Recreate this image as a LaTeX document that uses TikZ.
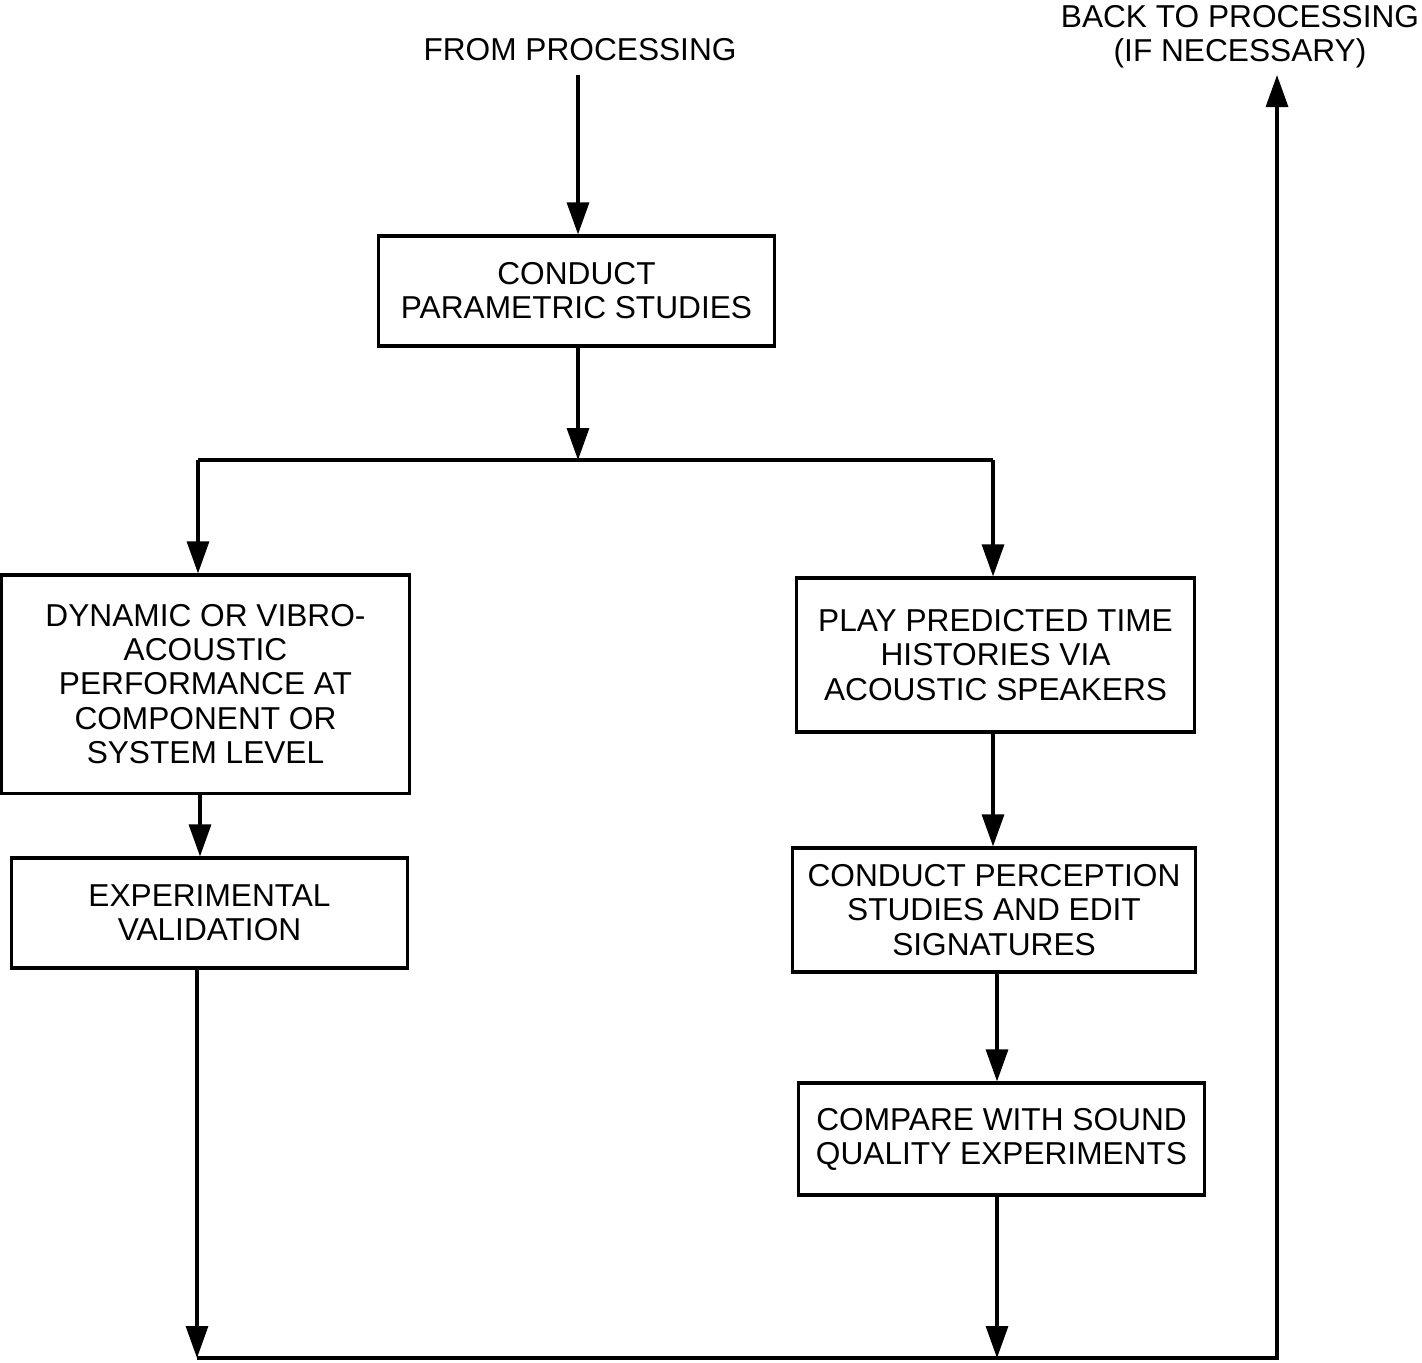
\documentclass[tikz,border=0pt]{standalone}
\usepackage{fontspec}
\setmainfont{Liberation Sans}
\usetikzlibrary{arrows.meta}

\begin{document}
\begin{tikzpicture}[x=0.01cm,y=-0.01cm,line width=0.9pt,
  >={Triangle[length=3.2mm,width=2.2mm]},
  font=\fontsize{9pt}{9.7pt}\selectfont,
  box/.style={draw,align=center,inner sep=0pt}]
\useasboundingbox (0,0) rectangle (1422,1362);
\node (from) at (580,50) {FROM PROCESSING};
\node[align=center] (back) at (1240,37) {BACK TO PROCESSING\\(IF NECESSARY)};
\node[box,minimum width=3.95cm,minimum height=1.10cm] (param) at (576.5,291) {CONDUCT\\PARAMETRIC STUDIES};
\node[box,minimum width=4.07cm,minimum height=2.18cm] (dyn) at (205.5,684) {DYNAMIC OR VIBRO-\\ACOUSTIC\\PERFORMANCE AT\\COMPONENT OR\\SYSTEM LEVEL};
\node[box,minimum width=3.95cm,minimum height=1.10cm] (exper) at (209.5,913) {EXPERIMENTAL\\VALIDATION};
\node[box,minimum width=3.97cm,minimum height=1.54cm] (play) at (995.5,655) {PLAY PREDICTED TIME\\HISTORIES VIA\\ACOUSTIC SPEAKERS};
\node[box,minimum width=4.02cm,minimum height=1.24cm] (percep) at (994,910) {CONDUCT PERCEPTION\\STUDIES AND EDIT\\SIGNATURES};
\node[box,minimum width=4.05cm,minimum height=1.12cm] (compare) at (1001.5,1139) {COMPARE WITH SOUND\\QUALITY EXPERIMENTS};
\coordinate (split) at (578,460);
\coordinate (splitL) at (198,460);
\coordinate (splitR) at (993,460);
\coordinate (botL) at (197,1358);
\coordinate (botM) at (997,1358);
\coordinate (botR) at (1277,1358);
\draw[->] (from.south -| 578,0) -- (param.north -| 578,0);
\draw[->] (param.south -| split) -- (split);
\draw (splitL) -- (splitR);
\draw[->] (splitL) -- (splitL |- dyn.north);
\draw[->] (splitR) -- (splitR |- play.north);
\draw[->] (dyn.south -| 200,0) -- (exper.north -| 200,0);
\draw[->] (exper.south -| botL) -- (botL);
\draw[->] (play.south -| splitR) -- (percep.north -| splitR);
\draw[->] (percep.south -| botM) -- (compare.north -| botM);
\draw[->] (compare.south -| botM) -- (botM);
\draw[->] (botL) -- (botR) -- (botR |- 0,75);
\end{tikzpicture}
\end{document}
